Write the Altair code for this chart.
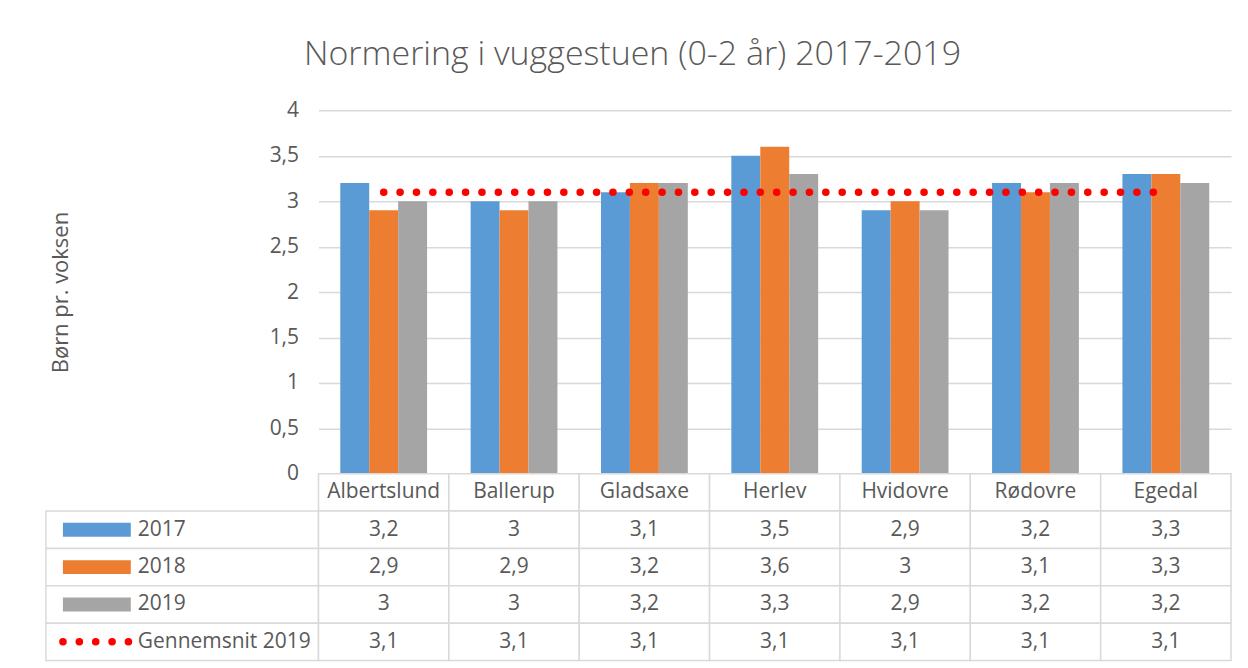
import altair as alt
import pandas as pd

FONT = "Open Sans"
TXT = "#595959"
GRID = "#d9d9d9"

kommuner = ["Albertslund", "Ballerup", "Gladsaxe", "Herlev", "Hvidovre", "Rødovre", "Egedal"]
v2017 = [3.2, 3.0, 3.1, 3.5, 2.9, 3.2, 3.3]
v2018 = [2.9, 2.9, 3.2, 3.6, 3.0, 3.1, 3.3]
v2019 = [3.0, 3.0, 3.2, 3.3, 2.9, 3.2, 3.2]
gns2019 = [3.1, 3.1, 3.1, 3.1, 3.1, 3.1, 3.1]
series = ["2017", "2018", "2019"]
avg_label = "Gennemsnit 2019"
colors = ["#5b9bd5", "#ed7d31", "#a5a5a5"]
dot_color = "#ff0000"
y_ticks = [0, 0.5, 1, 1.5, 2, 2.5, 3, 3.5, 4]


def fmt(v):
    return f"{v:g}".replace(".", ",")


bar_rows = []
for s, vals in zip(series, [v2017, v2018, v2019]):
    for k, v in zip(kommuner, vals):
        bar_rows.append({"Kommune": k, "År": s, "Værdi": v})
bar_df = pd.DataFrame(bar_rows)
avg_df = pd.DataFrame({"Kommune": kommuner, "Værdi": gns2019})

rows = ["hdr"] + series + [avg_label]
cell_rows = []
for i, k in enumerate(kommuner):
    cell_rows.append({"Kommune": k, "Række": "hdr", "Tekst": k})
    for s, vals in zip(series + [avg_label], [v2017, v2018, v2019, gns2019]):
        cell_rows.append({"Kommune": k, "Række": s, "Tekst": fmt(vals[i])})
cell_df = pd.DataFrame(cell_rows)
leg_df = pd.DataFrame({"Række": series + [avg_label]})

PW, PH = 914, 364
LW, TH = 273, 187

x_top = alt.X("Kommune:N", sort=kommuner,
              scale=alt.Scale(domain=kommuner, paddingInner=0.334, paddingOuter=0.167),
              axis=None)
y_top = alt.Y("Værdi:Q", scale=alt.Scale(domain=[0, 4], nice=False),
              axis=alt.Axis(values=y_ticks,
                            labelExpr="replace(format(datum.value, '~g'), '.', ',')",
                            title="Børn pr. voksen", grid=True, gridColor=GRID, gridWidth=1.5,
                            domain=False, ticks=False, labelPadding=20, labelFontSize=21,
                            labelColor=TXT, labelFont=FONT, titleFont=FONT, titleFontSize=22,
                            titleColor=TXT, titleFontWeight="normal", titlePadding=197))

bars = alt.Chart(bar_df).mark_bar().encode(
    x=x_top,
    xOffset=alt.XOffset("År:N", sort=series, scale=alt.Scale(domain=series, paddingInner=0, paddingOuter=0)),
    y=y_top,
    color=alt.Color("År:N", scale=alt.Scale(domain=series, range=colors), legend=None),
)
avg_line = alt.Chart(avg_df).mark_line(color=dot_color, strokeWidth=7.5, strokeDash=[0.1, 16.3],
                                        strokeCap="round").encode(x=x_top, y=alt.Y("Værdi:Q"))
top = alt.layer(bars, avg_line).properties(width=PW, height=PH)

spacer = alt.Chart(pd.DataFrame({"a": [0]})).mark_text(text="").properties(width=LW, height=PH)

x_tab = alt.X("Kommune:N", sort=kommuner,
              scale=alt.Scale(domain=kommuner, paddingInner=0, paddingOuter=0), axis=None)
y_tab = alt.Y("Række:N", sort=rows, scale=alt.Scale(domain=rows, paddingInner=0, paddingOuter=0),
              axis=None)
cells = alt.Chart(cell_df).mark_rect(fill="white", stroke=GRID, strokeWidth=1.5).encode(x=x_tab, y=y_tab)
cell_txt = alt.Chart(cell_df).mark_text(font=FONT, fontSize=21, color=TXT).encode(
    x=x_tab, y=y_tab, text="Tekst:N")
table = alt.layer(cells, cell_txt).properties(width=PW, height=TH)

leg_cells = alt.Chart(leg_df).mark_rect(fill="white", stroke=GRID, strokeWidth=1.5).encode(y=y_tab)
leg_sw = alt.Chart(leg_df).transform_filter(
    alt.FieldOneOfPredicate(field="Række", oneOf=series)
).mark_rule(strokeWidth=14).encode(
    x=alt.value(17), x2=alt.value(85),
    y=alt.Y("Række:N", sort=rows, scale=alt.Scale(domain=rows, paddingInner=0, paddingOuter=0),
            axis=None, bandPosition=0.5),
    color=alt.Color("Række:N", scale=alt.Scale(domain=series, range=colors), legend=None),
)
leg_dots = alt.Chart(leg_df).transform_filter(
    alt.FieldEqualPredicate(field="Række", equal=avg_label)
).mark_rule(strokeWidth=7.5, strokeDash=[0.1, 16.3], strokeCap="round", color=dot_color).encode(
    x=alt.value(17), x2=alt.value(86),
    y=alt.Y("Række:N", sort=rows, scale=alt.Scale(domain=rows, paddingInner=0, paddingOuter=0),
            axis=None, bandPosition=0.5),
)
leg_txt = alt.Chart(leg_df).mark_text(font=FONT, fontSize=21, color=TXT, align="left").encode(
    x=alt.value(92), y=y_tab, text="Række:N")
legcol = alt.layer(leg_cells, leg_sw, leg_dots, leg_txt).properties(width=LW, height=TH)

chart = alt.concat(spacer, top, legcol, table, columns=2, spacing=0, bounds="flush").properties(
    title=alt.TitleParams("Normering i vuggestuen (0-2 år) 2017-2019", font=FONT, fontSize=34,
                          color=TXT, fontWeight=300, anchor="middle", offset=27, dx=-6),
    padding={"left": 37, "top": 30, "right": 8, "bottom": 0},
    background="white",
).configure_view(stroke="transparent", strokeWidth=0)

chart.save("out.html", embed_options={"renderer": "svg", "actions": False})
